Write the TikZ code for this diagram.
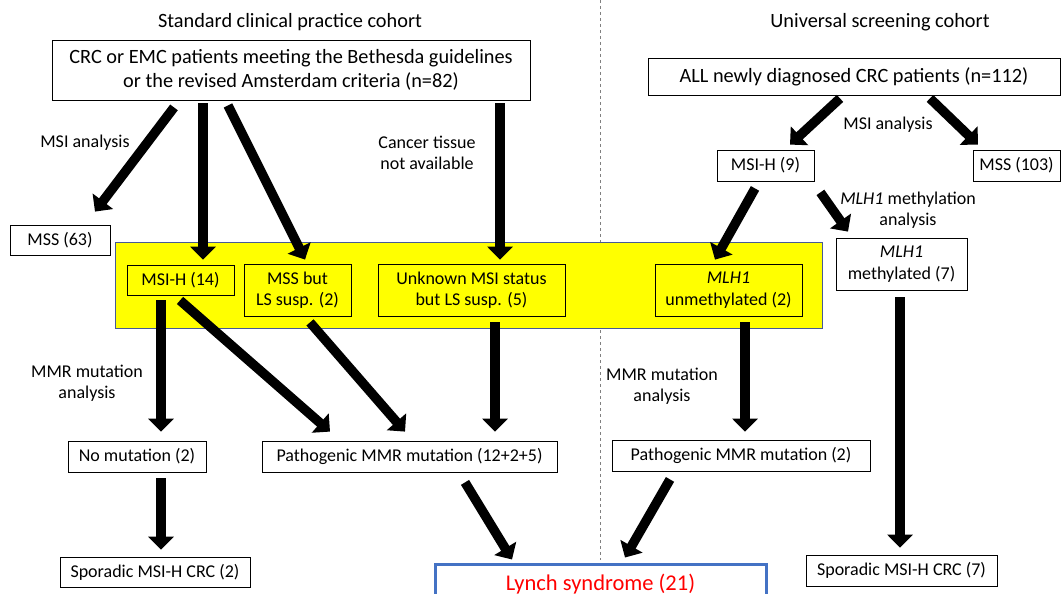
\documentclass[tikz,border=0pt]{standalone}
\usepackage{fontspec}
\setmainfont{Carlito}
\usetikzlibrary{arrows.meta, positioning}

\definecolor{panelyellow}{RGB}{255,255,0}
\definecolor{panelblue}{RGB}{70,90,150}
\definecolor{lynchblue}{RGB}{68,114,196}

\begin{document}
\begin{tikzpicture}[
    x=1pt, y=-1pt,
    font=\fontsize{18}{21.5}\selectfont,
    big/.style={font=\fontsize{20.3}{24}\selectfont},
    box/.style={draw, fill=white, line width=0.8pt, align=center, inner sep=2pt},
    note/.style={align=center},
    fat/.style={line width=9.5pt, -{Triangle[width=25pt,length=13pt]}}
]
\useasboundingbox (0,0) rectangle (1063,594);

% Headings and divider
\node[big] (hdleft) at (290,22) {Standard clinical practice cohort};
\node[big] (hdright) at (880,22) {Universal screening cohort};
\draw[gray, dashed, line width=0.8pt] (600,0) -- (600,560);

% Yellow panel
\node[draw=panelblue, fill=panelyellow, line width=0.8pt, minimum width=707pt, minimum height=86pt] (panel) at (468.5,285) {};

% Left cohort
\node[box, big, minimum width=478pt, minimum height=60pt] (cohortA) at (291,70)
    {CRC or EMC patients meeting the Bethesda guidelines\\ or the revised Amsterdam criteria (n=82)};
\node[box, minimum width=100pt, minimum height=30pt] (mss63) at (60,240) {MSS (63)};
\node[box, fill=panelyellow, minimum width=107pt, minimum height=30pt] (msih14) at (180.5,280) {MSI-H (14)};
\node[box, fill=panelyellow, minimum width=107pt, minimum height=52pt] (mssbut) at (297.5,290) {MSS but\\LS susp. (2)};
\node[box, fill=panelyellow, minimum width=187pt, minimum height=52pt] (unknown) at (471.5,290) {Unknown MSI status\\but LS susp. (5)};
\node[box, minimum width=138pt, minimum height=31pt] (nomut) at (137,456.5) {No mutation (2)};
\node[box, minimum width=295pt, minimum height=31pt] (path19) at (409.5,456.5) {Pathogenic MMR mutation (12+2+5)};
\node[box, minimum width=190pt, minimum height=30pt] (spor2) at (155,572) {Sporadic MSI-H CRC (2)};

% Right cohort
\node[box, big, minimum width=412pt, minimum height=37pt] (cohortB) at (854,76.5) {ALL newly diagnosed CRC patients (n=112)};
\node[box, minimum width=97pt, minimum height=31pt] (msih9) at (765.5,165.5) {MSI-H (9)};
\node[box, minimum width=87pt, minimum height=31pt] (mss103) at (1016.5,165.5) {MSS (103)};
\node[box, fill=panelyellow, minimum width=147pt, minimum height=52pt] (unmeth) at (728.5,290) {\itshape MLH1\\unmethylated (2)};
\node[box, minimum width=131pt, minimum height=52pt] (meth7) at (901.5,264) {\itshape MLH1\\methylated (7)};
\node[box, minimum width=258pt, minimum height=31pt] (path2) at (741,455.5) {Pathogenic MMR mutation (2)};
\node[box, minimum width=191pt, minimum height=31pt] (spor7) at (901.5,570.5) {Sporadic MSI-H CRC (7)};

% Result
\node[draw=lynchblue, fill=white, line width=3pt, text=red, minimum width=331pt, minimum height=40pt,
      font=\fontsize{22.5}{26}\selectfont] (lynch) at (600.5,584) {Lynch syndrome (21)};

% Labels
\node[note] (lblmsiA) at (85,143) {MSI analysis};
\node[note] (lbltissue) at (427,153) {Cancer tissue\\not available};
\node[note] (lblmsiB) at (888,125) {MSI analysis};
\node[note] (lblmeth) at (908,210) {\textit{MLH1} methylation\\analysis};
\node[note] (lblmmrA) at (87,383) {MMR mutation\\analysis};
\node[note] (lblmmrB) at (662,386) {MMR mutation\\analysis};

% Arrows
\draw[fat] ([xshift=-117pt,yshift=-7pt]cohortA.south) -- ([xshift=35pt,yshift=13pt]mss63.north);
\draw[fat] ([xshift=-88pt,yshift=-3pt]cohortA.south) -- ([xshift=22.5pt,yshift=5pt]msih14.north);
\draw[fat] ([xshift=-63pt,yshift=-5pt]cohortA.south) -- ([xshift=7.5pt,yshift=4pt]mssbut.north);
\draw[fat] ([xshift=209pt,yshift=-3pt]cohortA.south) -- ([xshift=28.5pt,yshift=4pt]unknown.north);

\draw[fat] ([xshift=-14pt,yshift=-3pt]cohortB.south) -- ([xshift=24.5pt,yshift=5pt]msih9.north);
\draw[fat] ([xshift=76pt,yshift=-3pt]cohortB.south) -- ([xshift=-38.5pt,yshift=5pt]mss103.north);
\draw[fat] ([xshift=-10.5pt,yshift=-7pt]msih9.south) -- ([xshift=-13.5pt,yshift=4pt]unmeth.north);
\draw[fat] ([xshift=6pt,yshift=-11pt]msih9.south east) -- ([xshift=-53.5pt,yshift=6pt]meth7.north);
\draw[fat] ([xshift=-1.5pt,yshift=-7pt]meth7.south) -- ([xshift=-1.5pt,yshift=7pt]spor7.north);

\draw[fat] ([xshift=-19.5pt,yshift=-5pt]msih14.south) -- ([xshift=24pt,yshift=9pt]nomut.north);
\draw[fat] ([xshift=-0.5pt,yshift=-5pt]msih14.south) -- ([xshift=-79.5pt,yshift=9pt]path19.north);
\draw[fat] ([xshift=12.5pt,yshift=-6pt]mssbut.south) -- ([xshift=-4.5pt,yshift=9pt]path19.north);
\draw[fat] ([xshift=23.5pt,yshift=-6pt]unknown.south) -- ([xshift=85.5pt,yshift=9pt]path19.north);
\draw[fat] ([xshift=16.5pt,yshift=-6pt]unmeth.south) -- ([xshift=4pt,yshift=8pt]path2.north);

\draw[fat] ([xshift=24pt,yshift=-6pt]nomut.south) -- ([xshift=6pt,yshift=7pt]spor2.north);
\draw[fat] ([xshift=55.5pt,yshift=-10pt]path19.south) -- ([xshift=-88.5pt,yshift=3pt]lynch.north);
\draw[fat] ([xshift=-71pt,yshift=-8pt]path2.south) -- ([xshift=24.5pt,yshift=5pt]lynch.north);

\end{tikzpicture}
\end{document}
